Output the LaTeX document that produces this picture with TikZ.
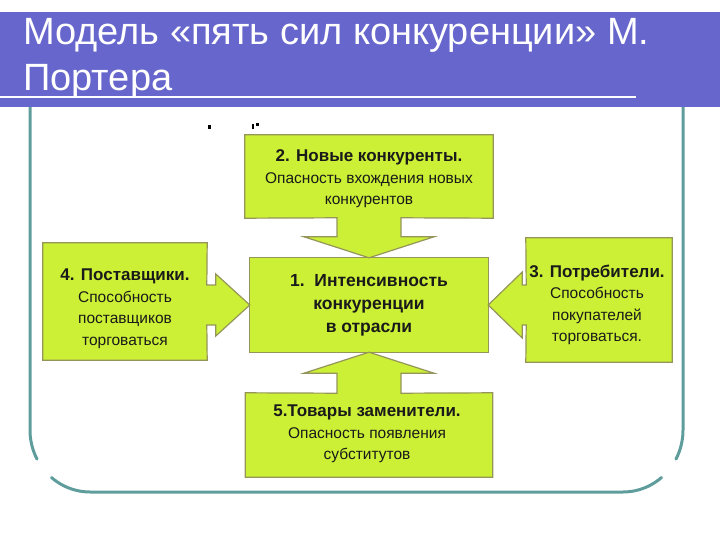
\documentclass[tikz,border=0pt]{standalone}
\usepackage{fontspec}
\setmainfont{Liberation Sans}
\usepackage{tikz}
\usetikzlibrary{calc}
\definecolor{porterbar}{HTML}{6666CC}
\definecolor{porterframe}{HTML}{5F9C9C}
\definecolor{porterlime}{HTML}{CCF035}
\definecolor{porterolive}{HTML}{95955A}
\definecolor{portertext}{HTML}{1A1A1A}

\begin{document}
\begin{tikzpicture}[x=1pt, y=-1pt,
  title/.style={anchor=base west, inner sep=0pt, text=white, font=\fontsize{38}{46}\selectfont},
  frame/.style={draw=porterframe, line width=3pt, line cap=round},
  force/.style={fill=porterlime, draw=porterolive, line width=1.2pt, line join=miter},
  blk/.style={inner sep=0pt},
  lbl/.style={align=center, inner sep=0pt, text=portertext, font=\fontsize{15.5}{21.5}\selectfont}
]
\useasboundingbox (0,0) rectangle (720,540);

\draw[frame] (30,100) -- (30,430) -- plot[domain=180:152, samples=12] ({90+60*cos(\x)},{430+62*sin(\x)});
\draw[frame] (683,100) -- (683,430) -- plot[domain=0:28, samples=12] ({623+60*cos(\x)},{430+62*sin(\x)});
\draw[frame] plot[domain=130:90, samples=12] ({90+60*cos(\x)},{430+62*sin(\x)})
  -- plot[domain=90:50, samples=12] ({623+60*cos(\x)},{430+62*sin(\x)});

\fill[porterbar] (0,12) rectangle (720,107);
\draw[white, line width=2pt] (0,97) -- (636,97);
\node[title] (title1) at (23,45) {Модель «пять сил конкуренции» М.};
\node[title] (title2) at (23,91) {Портера};

\fill[black] (208,125) rectangle (211,129);
\fill[black] (252,124) rectangle (254,129);
\fill[black] (256,123) rectangle (259,126);

\node[blk, minimum width=238pt, minimum height=94pt] (n1) at (369,305) {};
\node[blk, minimum width=248pt, minimum height=83pt] (n2) at (369,176.5) {};
\node[blk, minimum width=146pt, minimum height=124pt] (n3) at (599,300) {};
\node[blk, minimum width=164pt, minimum height=117pt] (n4) at (125,301.5) {};
\node[blk, minimum width=247pt, minimum height=84pt] (n5) at (369,435) {};

\draw[force] (n1.north west) rectangle (n1.south east);
\draw[force] (n2.north west) -- (n2.north east) -- (n2.south east)
  -- ($(n1.north)+(32,-40)$) -- ($(n1.north)+(32,-21)$) -- ($(n1.north)+(65,-21)$)
  -- (n1.north)
  -- ($(n1.north)+(-65,-21)$) -- ($(n1.north)+(-32,-21)$) -- ($(n1.north)+(-32,-40)$)
  -- (n2.south west) -- cycle;
\draw[force] (n5.south west) -- (n5.south east) -- (n5.north east)
  -- ($(n1.south)+(32,41)$) -- ($(n1.south)+(32,21)$) -- ($(n1.south)+(65,21)$)
  -- (n1.south)
  -- ($(n1.south)+(-65,21)$) -- ($(n1.south)+(-32,21)$) -- ($(n1.south)+(-32,41)$)
  -- (n5.north west) -- cycle;
\draw[force] (n4.north west) -- (n4.north east)
  -- ($(n1.west)+(-43,-20)$) -- ($(n1.west)+(-34,-20)$) -- ($(n1.west)+(-34,-31)$)
  -- (n1.west)
  -- ($(n1.west)+(-34,31)$) -- ($(n1.west)+(-34,20)$) -- ($(n1.west)+(-43,20)$)
  -- (n4.south east) -- (n4.south west) -- cycle;
\draw[force] (n3.north east) -- (n3.north west)
  -- ($(n1.east)+(38,-20)$) -- ($(n1.east)+(34,-20)$) -- ($(n1.east)+(34,-33)$)
  -- (n1.east)
  -- ($(n1.east)+(34,33)$) -- ($(n1.east)+(34,20)$) -- ($(n1.east)+(38,20)$)
  -- (n3.south west) -- (n3.south east) -- cycle;

\node[lbl, font=\bfseries\fontsize{17.5}{23}\selectfont] (t1) at (369,305) {1.\ \ Интенсивность\\конкуренции\\в отрасли};
\node[lbl] (t2) at (369,179) {\textbf{\fontsize{17}{21.5}\selectfont 2. Новые конкуренты.}\\Опасность вхождения новых\\конкурентов};
\node[lbl] (t3) at (597,305) {\textbf{\fontsize{17}{21.5}\selectfont 3. Потребители.}\\Способность\\покупателей\\торговаться.};
\node[lbl] (t4) at (125,309) {\textbf{\fontsize{17}{21.5}\selectfont 4. Поставщики.}\\Способность\\поставщиков\\торговаться};
\node[lbl] (t5) at (367,434) {\textbf{\fontsize{17}{21.5}\selectfont 5.Товары заменители.}\\Опасность появления\\субститутов};
\end{tikzpicture}
\end{document}
